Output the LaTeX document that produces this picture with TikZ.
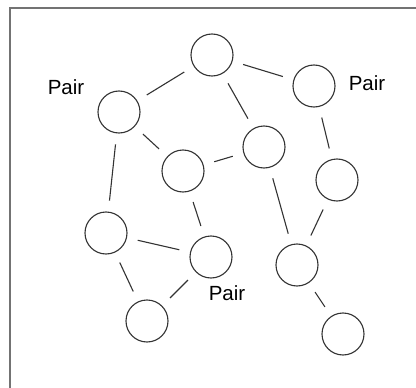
\documentclass[tikz,border=0pt]{standalone}
\usepackage{fontspec}
\setmainfont{Liberation Sans}
\usetikzlibrary{positioning}

\begin{document}
\begin{tikzpicture}[x=1pt, y=-1pt,
    ball/.style = {circle, draw = black!80, line width = 1.1pt,
      minimum size = 42pt, inner sep = 0pt},
    link/.style = {draw = black!80, line width = 1.1pt,
      shorten > = 11pt, shorten < = 11pt},
    tag/.style = {font = \fontsize{20.5}{24}\selectfont, inner sep = 0pt}]
  \useasboundingbox (0,0) rectangle (416,388);
  \draw[black!55, line width = 1.6pt] (10,388) -- (10,8) -- (416,8);

  % circles
  \node[ball] (top)  at (212,55)  {};
  \node[ball] (pairL) at (119,112) {};
  \node[ball] (pairR) at (314,86)  {};
  \node[ball] (mid)  at (264,147) {};
  \node[ball] (cenL) at (183,171) {};
  \node[ball] (right) at (337,180) {};
  \node[ball] (lowL) at (106,233) {};
  \node[ball] (lowM) at (211,257) {};
  \node[ball] (lowR) at (297,265) {};
  \node[ball] (botL) at (147,321) {};
  \node[ball] (botR) at (343,334) {};

  % labels
  \node[tag] (tagL) at (66,87)  {Pair};
  \node[tag] (tagR) at (367,83) {Pair};
  \node[tag] (tagM) at (227,293) {Pair};

  % links
  \foreach \a/\b in {top/pairL, top/pairR, top/mid, pairL/cenL, cenL/mid,
      pairR/right, pairL/lowL, cenL/lowM, mid/lowR, right/lowR,
      lowL/lowM, lowL/botL, lowM/botL, lowR/botR}
    \path[link] (\a) -- (\b);
\end{tikzpicture}
\end{document}
